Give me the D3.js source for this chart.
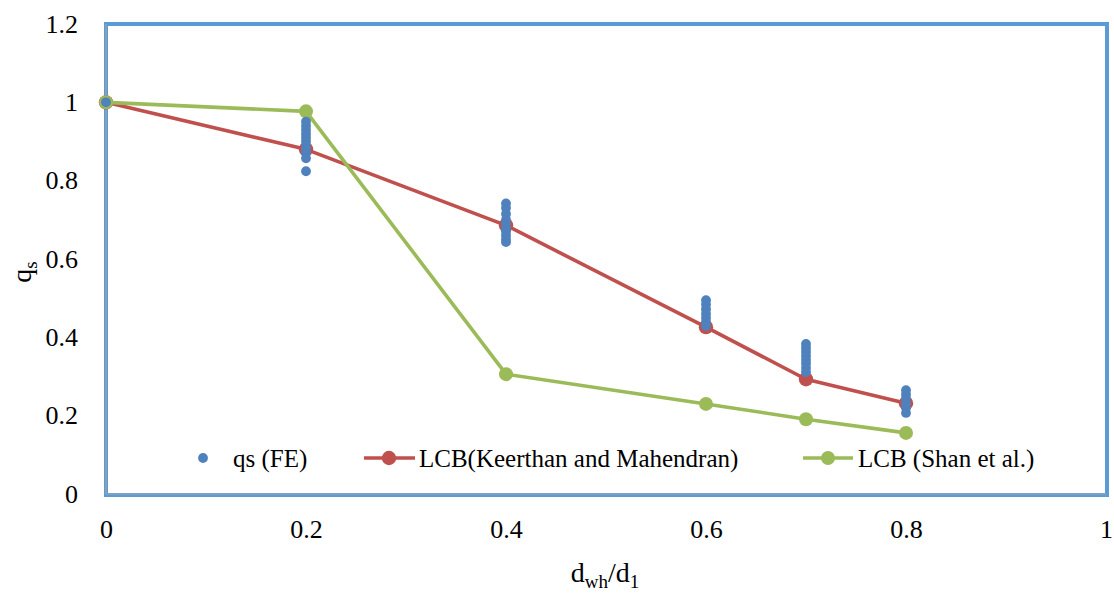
<!DOCTYPE html>
<html>
<head>
<meta charset="utf-8">
<script src="https://cdn.jsdelivr.net/npm/d3@7"></script>
<style>
  html, body { margin: 0; padding: 0; background: #fff; }
  svg text { font-family: "Liberation Serif", "Times New Roman", serif; fill: #000; }
</style>
</head>
<body>
<svg id="chart" width="1114" height="593"></svg>
<script>
// Opening ratio d_wh/d_1 and shear capacity reduction factor q_s
const feX = [0, 0.2, 0.2, 0.2, 0.2, 0.2, 0.2, 0.2, 0.2, 0.2, 0.2, 0.2,
             0.4, 0.4, 0.4, 0.4, 0.4, 0.4, 0.4, 0.4, 0.4, 0.4,
             0.6, 0.6, 0.6, 0.6, 0.6, 0.6, 0.6,
             0.7, 0.7, 0.7, 0.7, 0.7, 0.7, 0.7, 0.7,
             0.8, 0.8, 0.8, 0.8, 0.8, 0.8];
const feY = [1.0, 0.951, 0.94, 0.93, 0.92, 0.91, 0.90, 0.89, 0.88, 0.87, 0.857, 0.824,
             0.742, 0.73, 0.715, 0.70, 0.69, 0.68, 0.67, 0.66, 0.65, 0.643,
             0.495, 0.484, 0.472, 0.46, 0.45, 0.44, 0.429,
             0.383, 0.373, 0.363, 0.353, 0.343, 0.333, 0.322, 0.311,
             0.265, 0.254, 0.243, 0.232, 0.22, 0.207];

const lcbX = [0, 0.2, 0.4, 0.6, 0.7, 0.8];
const keerthanY = [1.0, 0.88, 0.686, 0.426, 0.293, 0.232];
const shanY = [1.0, 0.977, 0.306, 0.23, 0.191, 0.156];

const xTicks = [0, 0.2, 0.4, 0.6, 0.8, 1];
const yTicks = [0, 0.2, 0.4, 0.6, 0.8, 1, 1.2];

const seriesNames = ["qs (FE)", "LCB(Keerthan and Mahendran)", "LCB (Shan et al.)"];
const colors = { fe: "#4f81bd", keerthan: "#c0504d", shan: "#9bbb59" };

const svg = d3.select("#chart");
const plotLeft = 106, plotRight = 1106, plotTop = 24, plotBottom = 494;

const x = d3.scaleLinear().domain([0, 1]).range([plotLeft, plotRight]);
const y = d3.scaleLinear().domain([0, 1.2]).range([plotBottom, plotTop]);

const fmt = d => String(+d.toFixed(1));
const serif = '"Liberation Serif", "Times New Roman", serif';

// Plot-area frame
svg.append("rect")
  .attr("x", plotLeft).attr("y", plotTop)
  .attr("width", plotRight - plotLeft + 1).attr("height", plotBottom - plotTop + 1)
  .attr("fill", "none")
  .attr("stroke", "#5b9bd5")
  .attr("stroke-width", 4);

// Axis lines inside the frame
svg.append("line").attr("x1", plotLeft).attr("x2", plotLeft).attr("y1", plotTop).attr("y2", plotBottom)
  .attr("stroke", "#a6a6a6").attr("stroke-width", 1.2);
svg.append("line").attr("x1", plotLeft).attr("x2", plotRight).attr("y1", plotBottom).attr("y2", plotBottom)
  .attr("stroke", "#a6a6a6").attr("stroke-width", 1.2);

// Axes (labels only)
const yAxis = svg.append("g")
  .attr("transform", `translate(${plotLeft},0)`)
  .call(d3.axisLeft(y).tickValues(yTicks).tickFormat(fmt).tickSize(0).tickPadding(28));
const xAxis = svg.append("g")
  .attr("transform", `translate(0,${plotBottom})`)
  .call(d3.axisBottom(x).tickValues(xTicks).tickFormat(fmt).tickSize(0).tickPadding(26));
[yAxis, xAxis].forEach(g => {
  g.select(".domain").remove();
  g.selectAll("text")
    .style("font-family", serif)
    .style("font-size", "26px")
    .attr("fill", "#000");
});

// LCB curves
const line = d3.line().x(d => x(d[0])).y(d => y(d[1]));
function drawSeries(ys, color, r) {
  const pts = lcbX.map((v, i) => [v, ys[i]]);
  svg.append("path").datum(pts)
    .attr("d", line)
    .attr("fill", "none")
    .attr("stroke", color)
    .attr("stroke-width", 3.6)
    .attr("stroke-linejoin", "round");
  svg.append("g").selectAll("circle").data(pts).join("circle")
    .attr("cx", d => x(d[0])).attr("cy", d => y(d[1]))
    .attr("r", r).attr("fill", color);
}
drawSeries(keerthanY, colors.keerthan, 7.2);
drawSeries(shanY, colors.shan, 7);

// FE results
svg.append("g").selectAll("circle").data(feX.map((v, i) => [v, feY[i]])).join("circle")
  .attr("cx", d => x(d[0])).attr("cy", d => y(d[1]))
  .attr("r", 4.9).attr("fill", colors.fe);

// Legend
const legY = 458;
const leg = svg.append("g").style("font-family", serif).style("font-size", "25px");
leg.append("circle").attr("cx", 203).attr("cy", legY).attr("r", 4.9).attr("fill", colors.fe);
leg.append("text").attr("x", 233).attr("y", legY + 9).text(seriesNames[0]);

leg.append("line").attr("x1", 364).attr("x2", 415).attr("y1", legY).attr("y2", legY)
  .attr("stroke", colors.keerthan).attr("stroke-width", 3.6);
leg.append("circle").attr("cx", 389).attr("cy", legY).attr("r", 7.2).attr("fill", colors.keerthan);
leg.append("text").attr("x", 419).attr("y", legY + 9).text(seriesNames[1]);

leg.append("line").attr("x1", 803).attr("x2", 853).attr("y1", legY).attr("y2", legY)
  .attr("stroke", colors.shan).attr("stroke-width", 3.6);
leg.append("circle").attr("cx", 828).attr("cy", legY).attr("r", 7).attr("fill", colors.shan);
leg.append("text").attr("x", 858).attr("y", legY + 9).text(seriesNames[2]);

// Axis titles
const yTitle = svg.append("text")
  .attr("transform", "translate(31,272) rotate(-90)")
  .attr("text-anchor", "middle")
  .style("font-family", serif)
  .style("font-size", "28px");
yTitle.append("tspan").text("q");
yTitle.append("tspan").attr("dy", 6).style("font-size", "19px").text("s");

const xTitle = svg.append("text")
  .attr("x", 605).attr("y", 582)
  .attr("text-anchor", "middle")
  .style("font-family", serif)
  .style("font-size", "28px");
xTitle.append("tspan").text("d");
xTitle.append("tspan").attr("dy", 6).style("font-size", "19px").text("wh");
xTitle.append("tspan").attr("dy", -6).text("/d");
xTitle.append("tspan").attr("dy", 6).style("font-size", "19px").text("1");
</script>
</body>
</html>
